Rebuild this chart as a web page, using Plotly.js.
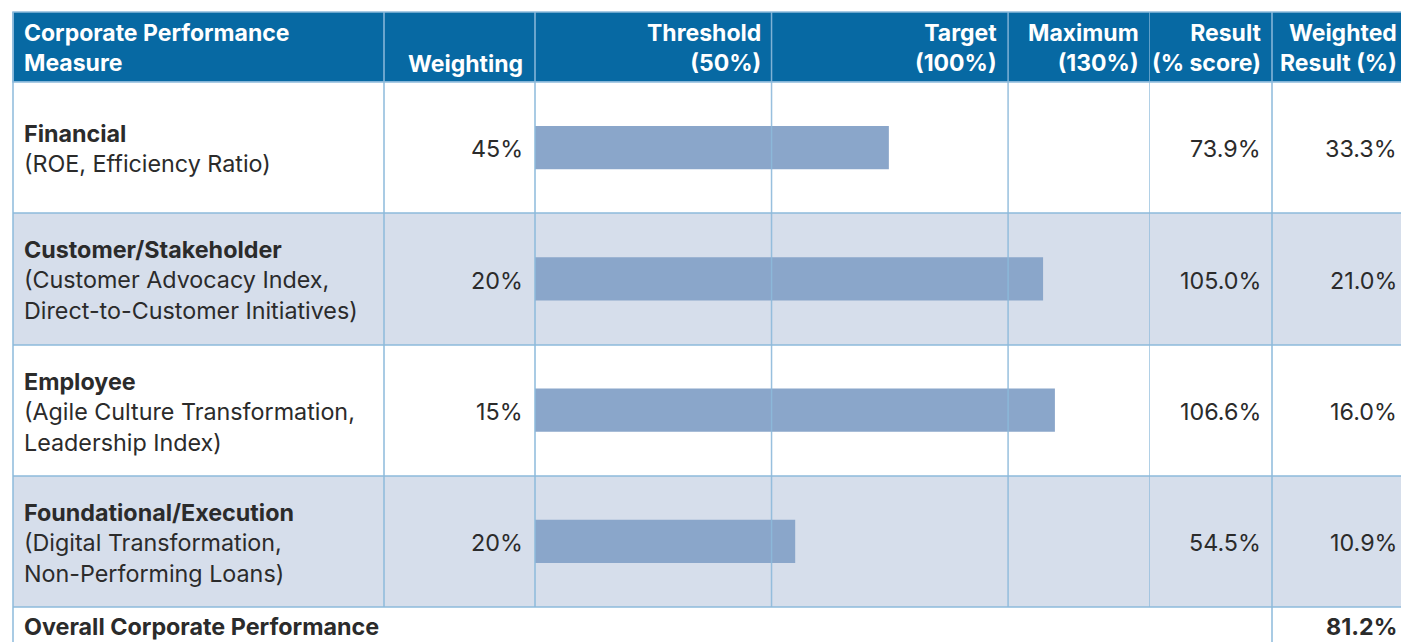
<!DOCTYPE html>
<html>
<head>
<meta charset="utf-8">
<script src="https://cdn.plot.ly/plotly-3.0.1.min.js"></script>
<style>html,body{margin:0;padding:0;background:#fff;}#chart{width:1401px;height:642px;}</style>
</head>
<body>
<div id="chart"></div>
<script>
// ---- data ----
const headers = ["Corporate Performance<br>Measure", "Weighting", "Threshold<br>(50%)", "Target<br>(100%)", "Maximum<br>(130%)", "Result<br>(% score)", "Weighted<br>Result (%)"];
const measures = ["Financial", "Customer/Stakeholder", "Employee", "Foundational/Execution"];
const measureDetails = ["(ROE, Efficiency Ratio)", "(Customer Advocacy Index,<br>Direct-to-Customer Initiatives)", "(Agile Culture Transformation,<br>Leadership Index)", "(Digital Transformation,<br>Non-Performing Loans)"];
const weightings = [45, 20, 15, 20];
const barLengths = [74.8, 107.4, 109.9, 55.0];   // bar ends as drawn in the picture (% score)
const results = [73.9, 105.0, 106.6, 54.5];
const weightedResults = [33.3, 21.0, 16.0, 10.9];
const overallLabel = "Overall Corporate Performance";
const overallResult = 81.2;
const scaleMarks = [50, 100, 130];

// ---- layout geometry (pixels) ----
const W = 1401, H = 642;
const px = x => x / W;
const py = y => (H - y) / H;
const tableLeft = 13, tableRight = 1412, headTop = 12, headBottom = 82;
const rowEdges = [82, 213, 345, 476, 607];
const barLeft = 535, barRight = 1150;

const headerBlue = "#0769a3";
const stripe = "#d6deeb";
const lineCol = "#8dbadb";
const barCol = "#8aa6ca";
const textCol = "#2b2b2b";
const FONT = "Inter, 'Open Sans', sans-serif";
const fs = 23.3;
const hfs = 23;

const shapes = [];
const annotations = [];

// header background
shapes.push({type: "rect", xref: "paper", yref: "paper", x0: px(tableLeft), x1: px(tableRight), y0: py(headBottom), y1: py(headTop),
  fillcolor: headerBlue, line: {color: lineCol, width: 1.5}, layer: "below"});
// row backgrounds
for (let i = 0; i < measures.length; i++) {
  shapes.push({type: "rect", xref: "paper", yref: "paper", x0: px(tableLeft), x1: px(tableRight),
    y0: py(rowEdges[i + 1]), y1: py(rowEdges[i]), fillcolor: i % 2 ? stripe : "#ffffff", line: {width: 0}, layer: "below"});
}
// horizontal lines
rowEdges.forEach(y => shapes.push({type: "line", xref: "paper", yref: "paper", x0: px(tableLeft), x1: px(tableRight), y0: py(y), y1: py(y),
  line: {color: lineCol, width: 1.5}, layer: "above"}));
// vertical lines (non-scale columns)
[13, 384, 535, 1272].forEach(x => shapes.push({type: "line", xref: "paper", yref: "paper", x0: px(x), x1: px(x),
  y0: py((x === 13 || x === 1272) ? H + 5 : rowEdges[rowEdges.length - 1]), y1: py(headTop),
  line: {color: lineCol, width: 1.5}, layer: "above"}));
// scale lines through the bar area, placed on the x axis scale
scaleMarks.forEach(v => shapes.push({type: "line", xref: "x", yref: "paper", x0: v, x1: v,
  y0: py(rowEdges[rowEdges.length - 1]), y1: py(headTop), line: {color: lineCol, width: 1.5}, opacity: 0.9, layer: "above"}));

// header texts
const headRight = [null, 525, 763, 999, 1141, 1263, 1399];
headers.forEach((h, j) => {
  const left = j === 0;
  annotations.push({xref: "paper", yref: "paper", x: px(left ? 22 : headRight[j]), y: py(48), xanchor: left ? "left" : "right",
    yanchor: "middle", align: left ? "left" : "right", showarrow: false, text: "<b>" + h + "</b>",
    font: {family: FONT, size: hfs, color: "#ffffff"}});
});
// "Weighting" sits on the lower line
annotations[1].y = py(64);

// row texts
for (let i = 0; i < measures.length; i++) {
  const yc = py((rowEdges[i] + rowEdges[i + 1]) / 2 + 1);
  annotations.push({xref: "paper", yref: "paper", x: px(22), y: yc, xanchor: "left", yanchor: "middle", align: "left", showarrow: false,
    text: "<b>" + measures[i] + "</b><br>" + measureDetails[i], font: {family: FONT, size: fs, color: textCol}});
  annotations.push({xref: "paper", yref: "paper", x: px(525), y: yc, xanchor: "right", yanchor: "middle", showarrow: false,
    text: weightings[i] + "%", font: {family: FONT, size: fs, color: textCol}});
  annotations.push({xref: "paper", yref: "paper", x: px(1263), y: yc, xanchor: "right", yanchor: "middle", showarrow: false,
    text: results[i].toFixed(1) + "%", font: {family: FONT, size: fs, color: textCol}});
  annotations.push({xref: "paper", yref: "paper", x: px(1399), y: yc, xanchor: "right", yanchor: "middle", showarrow: false,
    text: weightedResults[i].toFixed(1) + "%", font: {family: FONT, size: fs, color: textCol}});
}
// overall row
annotations.push({xref: "paper", yref: "paper", x: px(22), y: py(626), xanchor: "left", yanchor: "middle", showarrow: false,
  text: "<b>" + overallLabel + "</b>", font: {family: FONT, size: fs, color: textCol}});
annotations.push({xref: "paper", yref: "paper", x: px(1399), y: py(626), xanchor: "right", yanchor: "middle", showarrow: false,
  text: "<b>" + overallResult.toFixed(1) + "%</b>", font: {family: FONT, size: fs, color: textCol}});

const trace = {
  type: "bar", orientation: "h",
  x: barLengths, y: measures.map((_, i) => i),
  width: 0.33, marker: {color: barCol, line: {width: 0}},
  hoverinfo: "skip", showlegend: false
};

const layout = {
  width: W, height: H,
  margin: {l: 0, r: 0, t: 0, b: 0},
  paper_bgcolor: "#ffffff", plot_bgcolor: "rgba(0,0,0,0)",
  xaxis: {domain: [px(barLeft), px(barRight)], range: [0, 130], visible: false, fixedrange: true},
  yaxis: {domain: [py(rowEdges[rowEdges.length - 1]), py(rowEdges[0])], range: [3.5, -0.5], visible: false, fixedrange: true},
  shapes: shapes, annotations: annotations, showlegend: false
};

Plotly.newPlot("chart", [trace], layout, {displayModeBar: false, staticPlot: true});
</script>
</body>
</html>
